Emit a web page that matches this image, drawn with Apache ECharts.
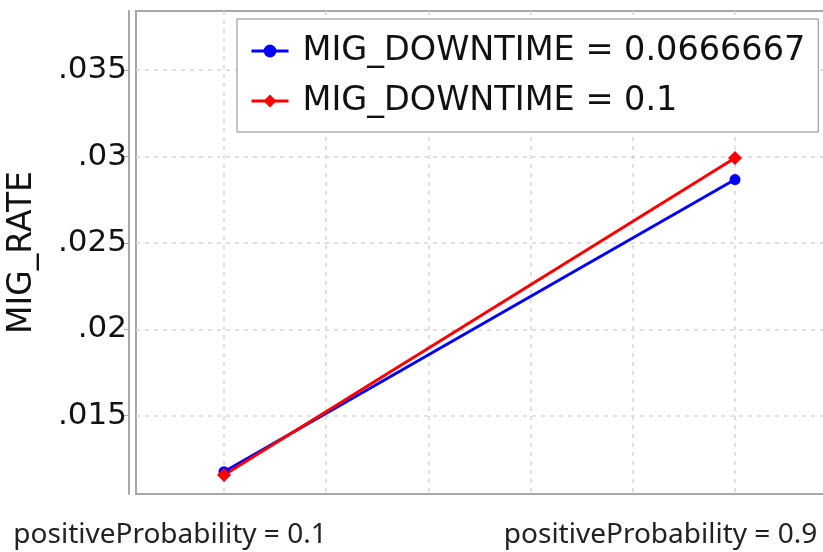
<!DOCTYPE html>
<html>
<head>
<meta charset="utf-8">
<title>MIG_RATE</title>
<script src="https://cdn.jsdelivr.net/npm/echarts@6/dist/echarts.min.js"></script>
<style>
  html, body { margin: 0; padding: 0; background: #fff; }
  #main { width: 823px; height: 552px; }
</style>
</head>
<body>
<div id="main"></div>
<script>
// x values (positiveProbability) and the two series
var probabilities = [0.1, 0.9];
var rateDowntime0667 = [0.01175, 0.02867];
var rateDowntime01 = [0.01156, 0.02992];
var seriesNames = ['MIG_DOWNTIME = 0.0666667', 'MIG_DOWNTIME = 0.1'];
var yTicks = [0.015, 0.02, 0.025, 0.03, 0.035];
var xGridTicks = [0.1, 0.26, 0.42, 0.58, 0.74, 0.9];

function pairs(xs, ys) {
  return xs.map(function (x, i) { return [x, ys[i]]; });
}

var chart = echarts.init(document.getElementById('main'));
chart.setOption({
  animation: false,
  grid: {
    left: 136, right: -2, top: 11, bottom: 58,
    outerBoundsMode: 'none',
    show: true, borderColor: '#a8a8a8', borderWidth: 2, backgroundColor: '#fff'
  },
  legend: {
    orient: 'vertical',
    left: 237, top: 19,
    padding: [15, 13, 14, 13],
    itemGap: 16,
    itemWidth: 37, itemHeight: 16,
    borderColor: '#8a8a8a', borderWidth: 1,
    backgroundColor: '#fff',
    lineStyle: { width: 3 },
    textStyle: { fontFamily: 'DejaVu Sans', fontSize: 33.5, color: '#111', padding: [0, 0, 0, 9] },
    data: seriesNames
  },
  xAxis: {
    type: 'value',
    min: -0.0378, max: 1.0409,
    axisLine: { show: false, onZero: false },
    axisTick: { show: false, customValues: xGridTicks },
    splitLine: { show: true, lineStyle: { color: '#d6d6d6', type: [4, 5], width: 1.5 } },
    axisLabel: {
      customValues: probabilities,
      margin: 27,
      fontFamily: 'Noto Sans', fontSize: 28, color: '#222',
      formatter: function (v) {
        return (v < 0.5 ? '{l|' : '{r|') + 'positiveProbability = ' + v + '}';
      },
      rich: {
        l: { fontFamily: 'Noto Sans', fontSize: 28, color: '#222', padding: [0, 108, 0, 0] },
        r: { fontFamily: 'Noto Sans', fontSize: 28, color: '#222', padding: [0, 149, 0, 0] }
      }
    }
  },
  yAxis: {
    type: 'value',
    min: 0.01046, max: 0.03843,
    offset: 7,
    name: 'MIG_RATE',
    nameLocation: 'middle',
    nameGap: 90,
    nameMoveOverlap: false,
    nameTextStyle: { fontFamily: 'DejaVu Sans', fontSize: 33, color: '#111' },
    axisLine: { show: true, onZero: false, lineStyle: { color: '#a8a8a8', width: 2 } },
    axisTick: { show: true, length: 5, customValues: yTicks, lineStyle: { color: '#a8a8a8' } },
    splitLine: { show: true, lineStyle: { color: '#d6d6d6', type: [4, 5], width: 1.5 } },
    axisLabel: {
      customValues: yTicks,
      margin: 2,
      fontFamily: 'DejaVu Sans', fontSize: 31, color: '#111',
      formatter: function (v) { return String(+v.toFixed(4)).replace(/^0/, ''); }
    }
  },
  series: [
    {
      name: seriesNames[0],
      type: 'line',
      data: pairs(probabilities, rateDowntime0667),
      symbol: 'circle', symbolSize: 11,
      lineStyle: { color: '#0000ff', width: 3 },
      itemStyle: { color: '#0000ff' }
    },
    {
      name: seriesNames[1],
      type: 'line',
      data: pairs(probabilities, rateDowntime01),
      symbol: 'diamond', symbolSize: 14,
      lineStyle: { color: '#ff0000', width: 3 },
      itemStyle: { color: '#ff0000' }
    }
  ]
});
</script>
</body>
</html>
